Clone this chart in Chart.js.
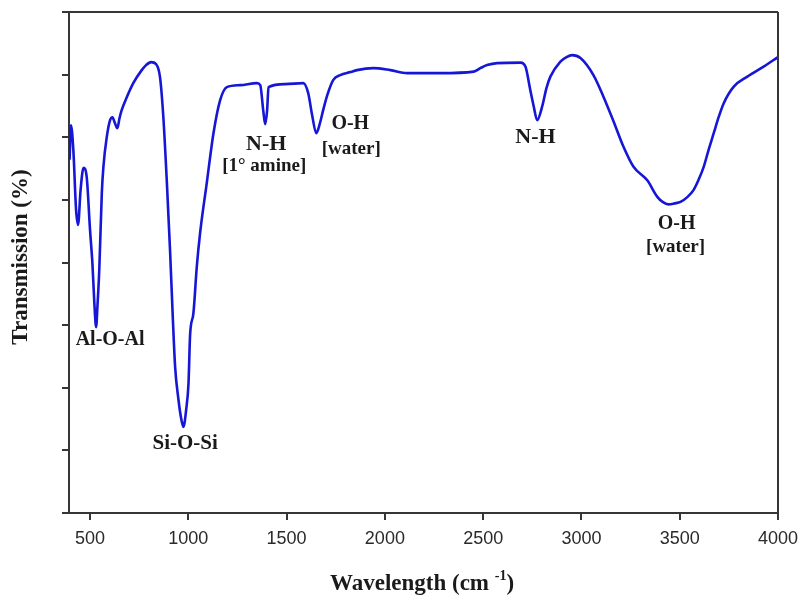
<!DOCTYPE html>
<html>
<head>
<meta charset="utf-8">
<script src="https://cdn.jsdelivr.net/npm/chart.js@4/dist/chart.umd.min.js"></script>
<style>
html,body{margin:0;padding:0;background:#fff;}
#wrap{width:801px;height:599px;}
</style>
</head>
<body>
<div id="wrap"><canvas id="c" width="801" height="599"></canvas></div>
<script>
// ---- data ----
const wavenumber = [396,403,415,429,439,452,467,483,500,512,522,531,538,547,560,568,585,602,614,625,639,650,661,687,720,763,785,811,836,856,873,891,907,921,933,950,963,975,989,1001,1009,1026,1043,1060,1094,1128,1162,1196,1264,1349,1366,1381,1391,1401,1408,1493,1585,1610,1630,1651,1671,1686,1707,1737,1773,1824,1858,1941,2028,2113,2282,2452,2486,2520,2571,2690,2715,2740,2756,2775,2800,2822,2842,2893,2924,2953,2995,3061,3112,3163,3214,3265,3335,3386,3413,3443,3474,3504,3540,3571,3596,3622,3647,3673,3698,3724,3775,3844,3927,4000];
const transmission = [70.5,77.4,72.5,60.5,57.5,64.5,68.9,67.1,56.5,49.9,41.9,37.1,41.5,48.5,63.9,69.1,75.0,78.4,79.0,78.0,76.8,78.8,80.4,83.0,85.8,88.4,89.4,90.0,89.6,87.0,79.0,65.9,52.5,39.1,29.1,22.6,19.0,17.2,20.6,25.9,35.5,39.9,49.1,55.9,65.9,75.8,82.4,85.0,85.4,85.8,85.4,80.4,77.6,80.4,85.0,85.6,85.8,83.8,79.4,75.8,78.0,80.4,83.4,86.4,87.4,88.0,88.4,88.8,88.4,87.8,87.8,88.1,88.8,89.4,89.8,89.9,89.1,84.4,81.4,78.4,81.1,84.8,87.1,90.1,91.0,91.4,90.8,87.4,83.1,78.2,73.1,69.1,66.4,63.1,62.1,61.6,61.8,62.1,63.1,64.5,66.5,69.1,72.5,75.8,79.0,81.8,85.1,87.1,89.1,91.0];
const xTickValues = [500,1000,1500,2000,2500,3000,3500,4000];
const yTickValues = [0,12.5,25,37.5,50,62.5,75,87.5,100];
const labelTexts = ['Al-O-Al','Si-O-Si','N-H','[1° amine]','O-H','[water]','N-H','O-H','[water]'];
const labelWavenumber = [602,984,1396,1386,1824,1829,2766,3484,3479];
const labelTransmission = [34.5,13.8,73.5,69.3,77.6,72.7,74.9,57.7,53.1];
const labelSize = [20,21,22,19,20,19,22,20,19];
const xTitle = 'Wavelength (cm';
const xTitleSup = '-1';
const yTitle = 'Transmission (%)';

const points = wavenumber.map((w,i)=>({x:w,y:transmission[i]}));
const axisColor = '#363636';
const serif = '"Liberation Serif", "Times New Roman", serif';

const extras = {
  id:'extras',
  afterDraw(chart){
    const ctx = chart.ctx, ca = chart.chartArea;
    const xs = chart.scales.x, ys = chart.scales.y;
    ctx.save();
    ctx.strokeStyle = axisColor; ctx.lineWidth = 2;
    ctx.beginPath();
    ctx.moveTo(ca.left, ca.top); ctx.lineTo(ca.right, ca.top);
    ctx.moveTo(ca.right, ca.top); ctx.lineTo(ca.right, ca.bottom);
    ctx.stroke();
    ctx.fillStyle = '#1a1a1a';
    ctx.textAlign = 'center'; ctx.textBaseline = 'middle';
    labelTexts.forEach((t,i)=>{
      ctx.font = 'bold ' + labelSize[i] + 'px ' + serif;
      ctx.fillText(t, xs.getPixelForValue(labelWavenumber[i]), ys.getPixelForValue(labelTransmission[i]));
    });
    ctx.font = 'bold 23px ' + serif;
    const w1 = ctx.measureText(xTitle + ' ').width;
    ctx.font = 'bold 14px ' + serif;
    const w2 = ctx.measureText(xTitleSup).width;
    ctx.font = 'bold 23px ' + serif;
    const w3 = ctx.measureText(')').width;
    const total = w1 + w2 + w3;
    let sx = 422 - total/2;
    const by = 590;
    ctx.textAlign = 'left'; ctx.textBaseline = 'alphabetic';
    ctx.fillText(xTitle + ' ', sx, by);
    ctx.font = 'bold 14px ' + serif;
    ctx.fillText(xTitleSup, sx + w1, by - 10);
    ctx.font = 'bold 23px ' + serif;
    ctx.fillText(')', sx + w1 + w2, by);
    ctx.translate(21, 257);
    ctx.rotate(-Math.PI/2);
    ctx.textAlign = 'center'; ctx.textBaseline = 'middle';
    ctx.font = 'bold 23px ' + serif;
    ctx.fillText(yTitle, 0, 0);
    ctx.restore();
  }
};

new Chart(document.getElementById('c'), {
  type:'line',
  data:{datasets:[{
    data: points,
    borderColor:'#1616d6',
    borderWidth:2.6,
    pointRadius:0,
    fill:false,
    cubicInterpolationMode:'monotone'
  }]},
  options:{
    responsive:false,
    animation:false,
    layout:{padding:{left:0,right:23,top:12,bottom:0}},
    plugins:{legend:{display:false},tooltip:{enabled:false}},
    scales:{
      x:{
        type:'linear', min:393, max:4000,
        afterBuildTicks(s){ s.ticks = xTickValues.map(v=>({value:v})); },
        afterFit(s){ s.height = 86; s.paddingRight = 0; s.paddingLeft = 0; },
        grid:{drawOnChartArea:false, drawTicks:true, tickLength:7, color:axisColor, lineWidth:2},
        border:{display:true, color:axisColor, width:2},
        ticks:{color:'#2a2a2a', padding:8, maxRotation:0, callback:v=>String(v), font:{family:'"Liberation Sans", Arial, sans-serif', size:18}}
      },
      y:{
        min:0, max:100,
        afterBuildTicks(s){ s.ticks = yTickValues.map(v=>({value:v})); },
        afterFit(s){ s.width = 69; },
        grid:{drawOnChartArea:false, drawTicks:true, tickLength:7, color:axisColor, lineWidth:2},
        border:{display:true, color:axisColor, width:2},
        ticks:{display:false}
      }
    }
  },
  plugins:[extras]
});
</script>
</body>
</html>
